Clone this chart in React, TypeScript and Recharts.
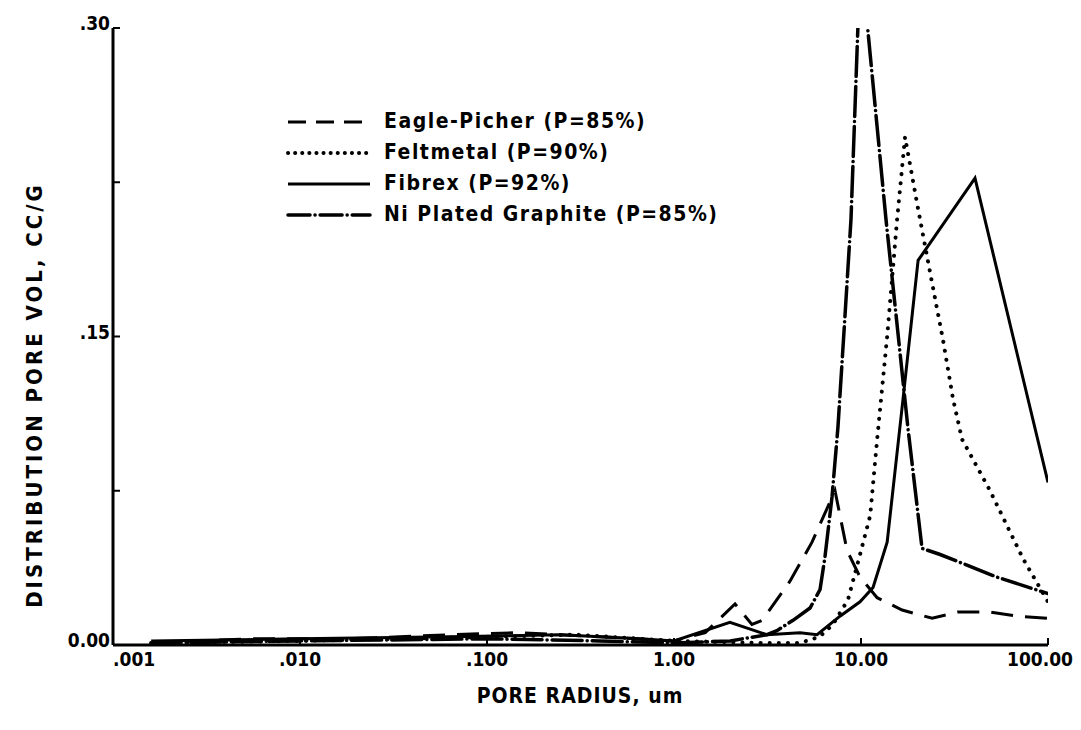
import { LineChart, Line, XAxis, YAxis, Legend } from "recharts";

// pore radius (um) and distribution pore volume (cc/g)
const eagleR = [0.0016, 0.0054, 0.0185, 0.063, 0.15, 0.4, 1.0, 1.47, 2.12, 2.61, 2.96, 4.17, 5.47, 7.26, 8.42, 9.88, 12.2, 16.6, 24.0, 33.0, 49.0, 68.3, 100];
const eagleV = [0.001, 0.003, 0.003, 0.005, 0.006, 0.004, 0.002, 0.006, 0.02, 0.01, 0.012, 0.031, 0.05, 0.075, 0.046, 0.033, 0.023, 0.017, 0.013, 0.016, 0.016, 0.014, 0.013];

const feltR = [0.0016, 0.01, 0.1, 0.3, 1.0, 3.0, 4.72, 6.0, 7.08, 8.52, 9.88, 11.2, 12.2, 13.8, 15.6, 17.2, 20.2, 24.0, 27.5, 31.0, 34.7, 49.0, 73.5, 100];
const feltV = [0.001, 0.002, 0.004, 0.005, 0.002, 0.001, 0.001, 0.004, 0.01, 0.022, 0.044, 0.063, 0.1, 0.15, 0.207, 0.247, 0.212, 0.176, 0.148, 0.12, 0.1, 0.075, 0.042, 0.021];

const fibrexR = [0.0016, 0.01, 0.063, 0.245, 0.66, 1.0, 1.99, 3.14, 4.72, 5.82, 7.72, 9.88, 11.6, 13.8, 16.8, 20.2, 40.7, 100];
const fibrexV = [0.002, 0.003, 0.004, 0.005, 0.003, 0.002, 0.011, 0.005, 0.006, 0.005, 0.014, 0.021, 0.028, 0.05, 0.12, 0.187, 0.227, 0.079];

const niR = [0.0016, 0.01, 0.1, 0.4, 1.0, 2.0, 3.14, 3.55, 4.33, 5.34, 6.04, 6.42, 7.0, 7.53, 8.21, 8.84, 9.64, 10.0, 10.8, 13.6, 17.8, 21.2, 26.5, 53.4, 100];
const niV = [0.001, 0.002, 0.003, 0.002, 0.001, 0.002, 0.005, 0.007, 0.012, 0.018, 0.027, 0.043, 0.072, 0.106, 0.16, 0.207, 0.302, 0.335, 0.302, 0.207, 0.106, 0.047, 0.044, 0.033, 0.025];

const xTicks = [0.001, 0.01, 0.1, 1, 10, 100];
const xTickLabels = [".001", ".010", ".100", "1.00", "10.00", "100.00"];
const yTicks = [0, 0.075, 0.15, 0.225, 0.3];
const yTickLabels = ["0.00", "", ".15", "", ".30"];

const zip = (r: number[], v: number[]) => r.map((x, i) => ({ r: x, v: v[i] }));

const FONT = "'DejaVu Sans Condensed', 'DejaVu Sans', sans-serif";

const series = [
  { name: "Eagle-Picher (P=85%)", data: zip(eagleR, eagleV), dash: "22 12", legendDash: "18 10", width: 3, cap: "butt" },
  { name: "Feltmetal (P=90%)", data: zip(feltR, feltV), dash: "0.1 9", legendDash: "0.1 7", width: 4, cap: "round" },
  { name: "Fibrex (P=92%)", data: zip(fibrexR, fibrexV), dash: undefined, legendDash: undefined, width: 3, cap: "butt" },
  { name: "Ni Plated Graphite (P=85%)", data: zip(niR, niV), dash: "30 5 0.1 5", legendDash: "22 5 0.1 5", width: 3.5, cap: "round" },
];

function XTick({ x, y, payload, index }: any) {
  const label = xTickLabels[xTicks.indexOf(payload.value)] ?? "";
  const anchor = index === 0 ? "start" : "middle";
  const tx = index === 0 ? x : index === xTicks.length - 1 ? x - 8 : x;
  return (
    <g>
      <line x1={x} x2={x} y1={y} y2={y - 7} stroke="#000" strokeWidth={2} />
      <text x={tx} y={y + 21} textAnchor={anchor} fontFamily={FONT} fontWeight="bold" fontSize={19} fill="#000">
        {label}
      </text>
    </g>
  );
}

function YTick({ x, y, payload }: any) {
  const label = yTickLabels[yTicks.indexOf(payload.value)] ?? "";
  return (
    <g>
      <line x1={x} x2={x + 7} y1={y} y2={y} stroke="#000" strokeWidth={2} />
      <text x={x - 3} y={y + 2} textAnchor="end" fontFamily={FONT} fontWeight="bold" fontSize={19} fill="#000">
        {label}
      </text>
    </g>
  );
}

function LegendBox() {
  return (
    <div style={{ fontFamily: FONT, fontWeight: "bold", fontSize: 21, lineHeight: "31px", letterSpacing: 1.5 }}>
      {series.map((s) => (
        <div key={s.name} style={{ display: "flex", alignItems: "center", whiteSpace: "nowrap" }}>
          <svg width={98} height={12}>
            <line
              x1={2}
              x2={84}
              y1={6}
              y2={6}
              stroke="#000"
              strokeWidth={s.width}
              strokeDasharray={s.legendDash}
              strokeLinecap={s.cap as any}
            />
          </svg>
          <span>{s.name}</span>
        </div>
      ))}
    </div>
  );
}

export default function App() {
  return (
    <div style={{ position: "absolute", left: 0, top: 0, width: 1081, height: 730, background: "#fff" }}>
      <LineChart width={1081} height={730} margin={{ top: 28, right: 33, bottom: 25, left: 0 }}>
        <XAxis
          type="number"
          dataKey="r"
          scale="log"
          domain={[0.001, 100]}
          ticks={xTicks}
          allowDataOverflow
          height={60}
          tickSize={0}
          tickMargin={0}
          tick={<XTick />}
          stroke="#000"
          strokeWidth={3}
          label={{
            content: () => (
              <text x={580} y={703} textAnchor="middle" fontFamily={FONT} fontWeight="bold" fontSize={21} letterSpacing={1} fill="#000">
                PORE RADIUS, um
              </text>
            ),
          }}
        />
        <YAxis
          type="number"
          domain={[0, 0.3]}
          ticks={yTicks}
          allowDataOverflow
          width={113}
          tickSize={0}
          tickMargin={0}
          tick={<YTick />}
          stroke="#000"
          strokeWidth={3}
          label={{
            content: () => (
              <text
                x={42}
                y={395}
                transform="rotate(-90 42 395)"
                textAnchor="middle"
                fontFamily={FONT}
                fontWeight="bold"
                fontSize={22}
                letterSpacing={3}
                fill="#000"
              >
                DISTRIBUTION PORE VOL, CC/G
              </text>
            ),
          }}
        />
        <Legend
          layout="vertical"
          align="center"
          verticalAlign="middle"
          content={() => <LegendBox />}
          wrapperStyle={{ position: "absolute", left: 286, top: 106, width: 460 }}
        />
        {series.map((s) => (
          <Line
            key={s.name}
            data={s.data}
            dataKey="v"
            name={s.name}
            type="linear"
            stroke="#000"
            strokeWidth={s.width}
            strokeDasharray={s.dash}
            strokeLinecap={s.cap as any}
            dot={false}
            activeDot={false}
            isAnimationActive={false}
          />
        ))}
      </LineChart>
    </div>
  );
}
